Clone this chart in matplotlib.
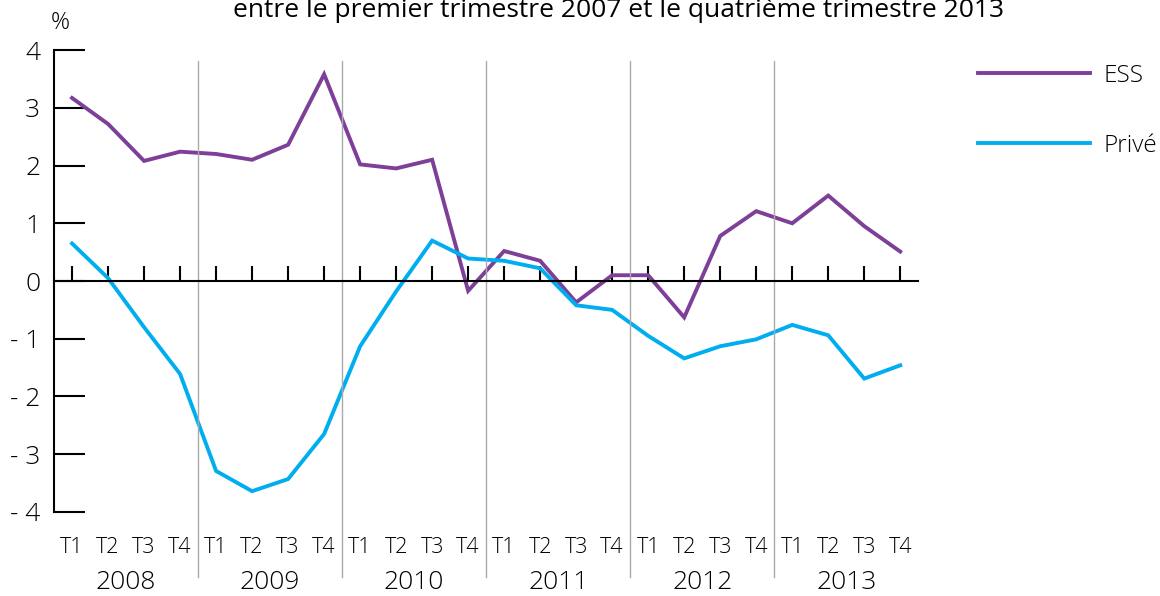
import matplotlib
matplotlib.use("Agg")
import matplotlib.pyplot as plt

plt.rcParams['font.family'] = ['Open Sans', 'DejaVu Sans']
plt.rcParams['font.weight'] = 'light'

years = ['2008', '2009', '2010', '2011', '2012', '2013']
quarters = ['T1', 'T2', 'T3', 'T4']

ess = [3.17, 2.72, 2.08, 2.24,
       2.20, 2.10, 2.36, 3.58,
       2.02, 1.95, 2.10, -0.17,
       0.52, 0.35, -0.37, 0.10,
       0.10, -0.63, 0.78, 1.21,
       1.00, 1.48, 0.95, 0.51]

prive = [0.65, 0.05, -0.80, -1.61,
         -3.29, -3.64, -3.43, -2.65,
         -1.13, -0.18, 0.70, 0.39,
         0.35, 0.22, -0.42, -0.50,
         -0.95, -1.34, -1.13, -1.01,
         -0.76, -0.94, -1.69, -1.46]

y_ticks = [4, 3, 2, 1, 0, -1, -2, -3, -4]
y_labels = ['4', '3', '2', '1', '0', '- 1', '- 2', '- 3', '- 4']

c_ess = '#7D3F98'
c_prive = '#00AEEF'

fig = plt.figure(figsize=(11.6, 5.96), dpi=100)
ax = fig.add_axes([0.0466, 0.141, 0.745, 0.775])

x = list(range(len(ess)))
ax.plot(x, ess, color=c_ess, lw=2.8, label='ESS', solid_joinstyle='miter')
ax.plot(x, prive, color=c_prive, lw=2.8, label='Privé', solid_joinstyle='miter')

ax.set_xlim(-0.5, len(x) - 0.5)
ax.set_ylim(-4, 4)

for s in ['top', 'right']:
    ax.spines[s].set_visible(False)
ax.spines['bottom'].set_position(('data', 0))
ax.spines['bottom'].set_linewidth(1.5)
ax.spines['left'].set_linewidth(1.5)

ax.set_yticks(y_ticks)
ax.set_yticklabels(y_labels, fontsize=19)
ax.tick_params(axis='y', direction='in', length=22, width=1.5, pad=10)
ax.set_xticks(x)
ax.tick_params(axis='x', direction='in', length=11, width=1.5, labelbottom=False)

# year separators
for i in range(1, len(years)):
    ax.axvline(i * 4 - 0.5, ymin=-0.141, ymax=0.976, color='#AAAAAA', lw=1, clip_on=False)

# quarter and year labels
tr = ax.get_xaxis_transform()
for i, yr in enumerate(years):
    for j, q in enumerate(quarters):
        ax.text(i * 4 + j, -0.078, q, transform=tr, ha='center', va='center', fontsize=15.5)
    ax.text(i * 4 + 1.5, -0.152, yr, transform=tr, ha='center', va='center', fontsize=19)

ax.legend(loc='upper left', bbox_to_anchor=(0.843, 0.893), bbox_transform=fig.transFigure,
          frameon=False, fontsize=17.5, handlelength=4.6, handletextpad=0.55,
          labelspacing=1.9, borderpad=0, borderaxespad=0)

fig.text(0.052, 0.962, '%', fontsize=17, ha='center', va='center')
# title is cropped at the top edge, as in the source
fig.text(0.533, 0.972, 'entre le premier trimestre 2007 et le quatrième trimestre 2013',
         fontsize=19, fontweight='normal', ha='center', va='baseline')

fig.savefig('out.png', dpi=100)
